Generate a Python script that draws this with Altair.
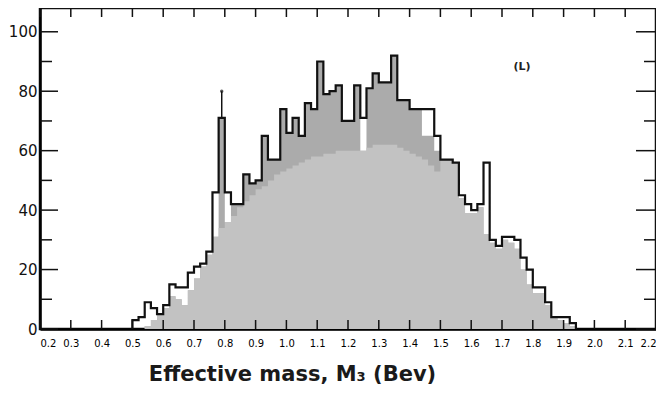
import altair as alt
import pandas as pd

# Bin starts (0.02 Bev bins from 0.50 to 1.92)
bin_start = [round(0.50 + 0.02 * i, 2) for i in range(72)]

# Bold outline histogram (events per bin)
outline = [3, 4, 9, 7, 5, 8, 15, 14, 14, 19, 21, 22, 26, 46, 71, 46, 42, 42, 52, 49,
           50, 65, 57, 57, 74, 66, 71, 65, 76, 74, 90, 79, 80, 82, 70, 70, 82, 71, 81, 86,
           83, 83, 92, 77, 77, 74, 74, 74, 74, 65, 57, 57, 56, 45, 42, 40, 42, 56, 30, 28,
           31, 31, 30, 24, 20, 14, 14, 9, 4, 4, 4, 2]
# Hatched histogram (top of hatched region)
hatch = [0, 0, 1, 3, 5, 7, 11, 10, 8, 13, 17, 21, 25, 31, 71, 36, 42, 42, 52, 49,
         50, 65, 57, 57, 74, 66, 71, 65, 76, 74, 90, 79, 80, 82, 70, 70, 82, 60, 81, 86,
         83, 83, 92, 77, 77, 74, 74, 65, 65, 60, 57, 57, 56, 44, 39, 39, 41, 32, 29, 27,
         30, 29, 27, 20, 15, 12, 12, 8, 4, 3, 2, 1]
# Shaded histogram
shaded = [0, 0, 1, 3, 5, 7, 11, 10, 8, 13, 17, 21, 25, 31, 34, 36, 38, 41, 43, 45,
          47, 48, 50, 52, 53, 54, 55, 56, 57, 58, 58, 59, 59, 60, 60, 60, 60, 60, 61, 62,
          62, 62, 62, 61, 60, 59, 58, 57, 55, 53, 57, 57, 56, 44, 39, 39, 41, 32, 29, 27,
          30, 29, 27, 20, 15, 12, 12, 8, 4, 3, 2, 1]
end_edge = 1.94

# Error bar on the 0.78 spike
err_x = [0.79]
err_lo = [71]
err_hi = [80]

x_ticks = [round(0.2 + 0.1 * i, 1) for i in range(21)]
y_major = [0, 20, 40, 60, 80, 100]
y_minor = [10, 30, 50, 70, 90]

hist = pd.DataFrame({
    "m": bin_start + [end_edge],
    "outline": outline + [0],
    "hatch": hatch + [0],
    "shaded": shaded + [0],
})
line_df = pd.DataFrame({
    "m": [bin_start[0]] + bin_start + [end_edge],
    "v": [0] + outline + [0],
    "i": list(range(len(bin_start) + 2)),
})

PADL = 32
W, H = 648 - PADL, 321
xs = alt.Scale(domain=[0.2, 2.2], nice=False, zero=False)
ys = alt.Scale(domain=[0, 108], nice=False)

x_axis = alt.Axis(values=x_ticks, format=".1f", tickSize=0, grid=False,
                  domainColor="black", domainWidth=2.5, labelFontSize=10,
                  labelPadding=9, labelColor="black", labelOverlap=False,
                  labelFlush=True, labelBound=False,
                  title="Effective mass, M₃ (Bev)", titleFontSize=21,
                  titleFontWeight="bold", titleColor="#1a1a1a",
                  titleX=292 - 8 - PADL, titleY=34, titleAlign="center",
                  titleBaseline="top")
y_axis = alt.Axis(values=y_major, tickSize=0, grid=False, domainColor="black",
                  domainWidth=2.5, labelFontSize=15, labelPadding=3,
                  labelColor="#111", title=None, labelBound=False)


def X(f):
    return alt.X(f, scale=xs, axis=x_axis)


def Y(f):
    return alt.Y(f, scale=ys, axis=y_axis)


base = alt.Chart(hist)
hatch_area = base.mark_area(interpolate="step-after", color="#ababab").encode(
    x=X("m:Q"), y=Y("hatch:Q"))
shade_area = base.mark_area(interpolate="step-after", color="#c2c2c2").encode(
    x=X("m:Q"), y=Y("shaded:Q"))
outline_line = alt.Chart(line_df).mark_line(
    interpolate="step-after", color="#111", strokeWidth=2.2
).encode(x=X("m:Q"), y=Y("v:Q"), order="i:Q")

err_df = pd.DataFrame({"m": err_x, "lo": err_lo, "hi": err_hi})
err_rule = alt.Chart(err_df).mark_rule(color="#111", strokeWidth=1.5).encode(
    x=X("m:Q"), y=Y("lo:Q"), y2="hi:Q")
err_dot = alt.Chart(err_df).mark_point(filled=True, color="#111", size=12).encode(
    x=X("m:Q"), y=Y("hi:Q"))

xt = pd.DataFrame({"t": x_ticks})
bottom_ticks = alt.Chart(xt).mark_rule(color="#111", strokeWidth=1.5).encode(
    x=X("t:Q"), y=alt.value(H), y2=alt.value(H - 9))
top_ticks = alt.Chart(xt).mark_rule(color="#111", strokeWidth=1.5).encode(
    x=X("t:Q"), y=alt.value(0), y2=alt.value(9))

ymj = pd.DataFrame({"t": y_major})
ymn = pd.DataFrame({"t": y_minor})
left_major = alt.Chart(ymj).mark_rule(color="#111", strokeWidth=1.5).encode(
    y=Y("t:Q"), x=alt.value(0), x2=alt.value(18))
left_minor = alt.Chart(ymn).mark_rule(color="#111", strokeWidth=1.5).encode(
    y=Y("t:Q"), x=alt.value(0), x2=alt.value(12))
right_major = alt.Chart(ymj).mark_rule(color="#111", strokeWidth=1.5).encode(
    y=Y("t:Q"), x=alt.value(W), x2=alt.value(W - 20))
right_minor = alt.Chart(ymn).mark_rule(color="#111", strokeWidth=1.5).encode(
    y=Y("t:Q"), x=alt.value(W), x2=alt.value(W - 12))

lab_df = pd.DataFrame({"m": [1.765], "v": [88], "s": ["(L)"]})
label = alt.Chart(lab_df).mark_text(fontSize=11, fontWeight="bold", color="#222",
                                     font="DejaVu Sans").encode(
    x=X("m:Q"), y=Y("v:Q"), text="s:N")

chart = alt.layer(
    hatch_area, shade_area, outline_line, err_rule, err_dot,
    bottom_ticks, top_ticks, left_major, left_minor, right_major, right_minor, label,
).properties(
    width=W, height=H,
    autosize=alt.AutoSizeParams(type="none"),
    padding={"left": PADL, "top": 0, "right": 0, "bottom": 67},
).configure_view(
    stroke="#111", strokeWidth=2.5
).configure_axis(
    labelFont="DejaVu Sans", titleFont="DejaVu Sans"
)

chart.save("out.html", embed_options={"renderer": "svg", "actions": False})
